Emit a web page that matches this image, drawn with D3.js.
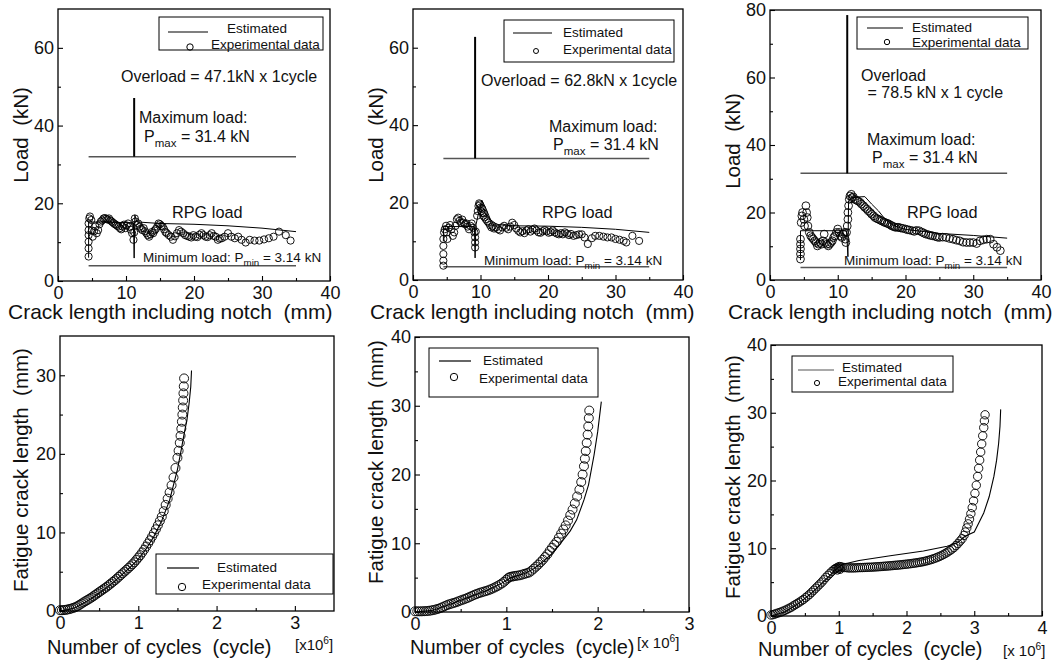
<!DOCTYPE html>
<html>
<head>
<meta charset="utf-8">
<script src="https://cdn.jsdelivr.net/npm/d3@7"></script>
<style>
  body { margin: 0; background: #fff; }
  svg { display: block; font-family: "Liberation Sans", Arial, Helvetica, sans-serif; }
</style>
</head>
<body>
<svg id="chart" width="1052" height="665"></svg>
<script>
// ---- ticks ----
const loadXTicks = [0, 10, 20, 30, 40];
const loadXMinor = [5, 15, 25, 35];
const loadYTicks70 = [0, 20, 40, 60];
const loadYMinor70 = [10, 30, 50];
const loadYTicks80 = [0, 20, 40, 60, 80];
const loadYMinor80 = [10, 30, 50, 70];
const cycleTicks3 = [0, 1, 2, 3];
const cycleMinor3 = [0.5, 1.5, 2.5];
const cycleTicks4 = [0, 1, 2, 3, 4];
const cycleMinor4 = [0.5, 1.5, 2.5, 3.5];
const crackTicks35 = [0, 10, 20, 30];
const crackMinor35 = [5, 15, 25];
const crackTicks40 = [0, 10, 20, 30, 40];
const crackMinor40 = [5, 15, 25, 35];

// ---- load levels (kN) and overload position (mm) for the three tests ----
const maxLoadLevel = [32, 31.4, 31.6];
const minLoadLevel = [3.9, 3.4, 3.7];
const levelSpan = [4.5, 35];
const overloadX = [11.2, 9.2, 11.4];
const overloadPeak = [47.1, 62.8, 78.5];

// ---- RPG load vs crack length: [mm, kN] ----
const loadEstA = [[4.5,6],[4.5,15.2],[11.1,15],[11.2,5.9],[11.3,17],[11.6,15.2],[15,14.8],[20,14.6],[25,14.2],[30,13.6],[35,12.7]];
const loadExpA = [[4.5,6.3],[4.5,8.4],[4.5,10.1],[4.5,11.8],[4.5,13.1],[4.5,14.8],[4.6,16.1],[4.7,16.6],[4.9,15.7],[5,13],[5.1,11.4],[5.3,12.8],[5.5,14],[5.7,12.3],[5.9,13.1],[6.1,14.6],[6.3,15.3],[6.5,15.6],[6.7,16.1],[6.9,16.2],[7.1,16],[7.3,15.8],[7.5,16.1],[7.7,15.6],[7.9,15.3],[8.1,15],[8.3,14.7],[8.5,14.5],[8.7,14.2],[8.9,14],[9.1,13.6],[9.3,13.3],[9.5,14],[9.7,14.5],[9.9,13.6],[10.1,14.3],[10.3,14.8],[10.5,14],[10.7,13.2],[10.9,12.3],[11.1,10.6],[11.2,12.5],[11.3,16.1],[11.4,15.3],[11.6,14.4],[11.8,14.8],[12,14],[12.2,13.5],[12.4,13.1],[12.6,13.6],[12.8,12.8],[13,12.3],[13.2,11.8],[13.4,11.4],[13.6,12],[13.8,12.6],[14,12.3],[14.2,13],[14.4,13.4],[14.6,14],[14.8,14.8],[15,14.6],[15.2,14.2],[15.4,14],[15.6,13.3],[15.8,12.6],[16,12.3],[16.3,11.8],[16.6,11.4],[16.9,10.6],[17.2,11.5],[17.5,12.3],[17.8,13.1],[18.1,12.7],[18.4,12.3],[18.7,11.8],[19,11.6],[19.3,11.4],[19.6,11.2],[19.9,11.8],[20.2,11.4],[20.5,11.3],[20.8,11.9],[21.1,12.3],[21.4,11.8],[21.7,11.4],[22,11.3],[22.3,11.8],[22.6,12.3],[22.9,11.6],[23.2,11.4],[23.5,10.6],[23.8,10.9],[24.1,11],[24.5,11.4],[25,12.3],[25.5,11.4],[26,11],[26.5,11.4],[27,10.6],[27.6,9.9],[28.2,10.6],[28.9,10.4],[29.6,10.4],[30.3,10.7],[31,11],[31.7,11.4],[32.5,12.7],[33.5,11.8],[34.2,10.4]];

const loadEstB = [[4.5,10],[4.5,13.8],[9.1,13.8],[9.2,5.7],[9.3,14],[9.8,18],[10.2,20.6],[10.8,18.5],[11.5,15.5],[12.5,14.3],[15,14],[20,13.9],[25,13.6],[30,13.1],[35,12.3]];
const loadExpB = [[4.5,3.7],[4.5,5],[4.5,6.7],[4.5,8.8],[4.5,10.6],[4.6,12.3],[4.7,13.1],[4.9,14],[5,12.3],[5.1,10.6],[5.3,13.5],[5.5,14.2],[5.7,13.1],[5.9,11.4],[6.1,12.3],[6.3,14],[6.5,15.7],[6.7,16.1],[6.9,15.3],[7.1,14.8],[7.3,15.6],[7.5,14.8],[7.7,14.4],[7.9,14.6],[8.1,13.8],[8.3,13.1],[8.5,14],[8.7,14.6],[8.9,13.5],[9.1,12.3],[9.2,11],[9.2,9.7],[9.2,8.4],[9.3,12.5],[9.5,16.6],[9.6,17.8],[9.7,19.1],[9.8,19.8],[9.9,19.5],[10,18.7],[10.1,17.8],[10.2,18.5],[10.3,17.4],[10.4,16.6],[10.5,17.2],[10.6,16.2],[10.8,15.7],[11,15.2],[11.2,14.8],[11.4,14.2],[11.6,13.6],[11.8,13.9],[12,13.3],[12.3,13.6],[12.6,13.1],[12.9,12.8],[13.2,13.6],[13.5,14],[13.8,13.5],[14.1,13.1],[14.4,13.8],[14.7,14.8],[15,14.2],[15.3,13.3],[15.6,12.7],[15.9,12.3],[16.2,12.6],[16.5,12.1],[16.8,12.8],[17.1,13.1],[17.4,12.5],[17.7,13],[18,13.3],[18.3,12.8],[18.6,12.3],[18.9,12.2],[19.2,12.6],[19.5,12.9],[19.8,12.6],[20.1,12.2],[20.4,12.4],[20.7,12.8],[21,12.3],[21.3,12],[21.6,11.8],[21.9,12.1],[22.2,11.8],[22.5,12.3],[22.8,12],[23.1,11.6],[23.4,11.9],[23.8,11.4],[24.2,11.6],[24.6,11.8],[25,11.8],[25.4,11],[25.9,9.3],[26.5,10.8],[27,11.4],[27.6,11.4],[28.2,11.2],[28.8,11],[29.4,11],[30,10.6],[30.6,10.4],[31.2,10.1],[31.6,9.7],[32.5,11.4],[33.5,10.1]];

const loadEstC = [[4.5,5.9],[4.5,14.6],[11.3,14.6],[11.5,6.9],[11.6,23.5],[12,24.3],[13,24.6],[14,24.7],[15,22.5],[16,20.5],[17,18],[18,16.4],[19,15.6],[20,15],[25,13.8],[30,13.2],[35,12.4]];
const loadExpC = [[4.5,6.2],[4.5,7.7],[4.5,9.2],[4.5,10.6],[4.5,12.1],[4.6,17],[4.7,19],[4.8,20],[5,18],[5.1,16],[5.3,22],[5.4,20],[5.5,18.5],[5.6,16],[5.8,14.1],[6,13.1],[6.2,12.6],[6.4,12.1],[6.6,11.6],[6.8,11.1],[7,10.1],[7.2,10.6],[7.4,11.1],[7.6,10.6],[7.8,11.6],[8,13.6],[8.2,11.1],[8.4,10.6],[8.6,10.1],[8.8,10.6],[9,11.1],[9.2,11.6],[9.4,12.6],[9.6,13.1],[9.8,14.1],[10,15.1],[10.2,14.1],[10.4,13.1],[10.6,12.6],[10.8,13.6],[11,14.1],[11.1,12.1],[11.2,11.1],[11.3,14.1],[11.4,16],[11.5,18],[11.5,20],[11.6,22],[11.7,23.9],[11.8,24.9],[12,25.4],[12.1,24.4],[12.3,24.6],[12.5,23.9],[12.8,23.6],[13,23.4],[13.3,23],[13.5,22.5],[13.8,22],[14,21.5],[14.3,21],[14.5,20.5],[14.8,20],[15,19.5],[15.3,19],[15.5,18.5],[15.8,18.2],[16,18],[16.3,17.7],[16.5,17.5],[16.8,17.2],[17,17],[17.3,16.8],[17.5,16.6],[17.8,16.3],[18,16],[18.3,15.8],[18.5,15.6],[18.8,15.6],[19,15.6],[19.3,15.4],[19.6,15.3],[20,15.1],[20.3,14.9],[20.6,14.8],[21,14.6],[21.3,14.4],[21.6,14.7],[22,14.6],[22.4,14.2],[22.7,13.9],[23,13.6],[23.4,13.4],[23.7,13.2],[24,13.1],[24.4,12.9],[24.7,12.7],[25,12.6],[25.5,12.7],[26,12.6],[26.5,12.3],[27,12.1],[27.5,11.8],[28,11.6],[28.5,11.2],[29,11.1],[29.5,11.1],[30,11.1],[30.5,10.8],[31,11.6],[31.5,11.9],[32,12.1],[32.5,12.1],[33,10.6],[33.5,9.7],[34,8.7]];

// ---- crack length vs cycles: [x10^6 cycles, mm] ----
const crackEstA = [[0,0],[0.1,0.15],[0.2,0.45],[0.3,1.0],[0.4,1.6],[0.5,2.3],[0.6,3.0],[0.7,3.8],[0.8,4.7],[0.9,5.6],[1.0,6.6],[1.1,7.9],[1.2,9.5],[1.3,11.5],[1.4,14.1],[1.5,18.0],[1.55,20.6],[1.59,22.8],[1.62,24.2],[1.65,26.5],[1.67,28.5],[1.68,30.6]];
const crackExpA = [[0,0.1],[0.025,0.1],[0.05,0.12],[0.075,0.15],[0.1,0.2],[0.125,0.26],[0.15,0.33],[0.175,0.41],[0.2,0.5],[0.225,0.63],[0.25,0.78],[0.275,0.94],[0.3,1.1],[0.325,1.25],[0.35,1.4],[0.375,1.55],[0.4,1.7],[0.425,1.87],[0.45,2.05],[0.475,2.22],[0.5,2.4],[0.525,2.57],[0.55,2.75],[0.575,2.92],[0.6,3.1],[0.625,3.3],[0.65,3.5],[0.675,3.7],[0.7,3.9],[0.725,4.12],[0.75,4.35],[0.775,4.57],[0.8,4.8],[0.825,5.02],[0.85,5.25],[0.875,5.47],[0.9,5.7],[0.925,5.95],[0.95,6.2],[0.975,6.5],[1.0,6.8],[1.025,7.1],[1.05,7.45],[1.075,7.8],[1.1,8.2],[1.125,8.6],[1.15,9.0],[1.175,9.45],[1.2,9.9],[1.225,10.4],[1.25,10.9],[1.275,11.45],[1.3,12.0],[1.325,12.7],[1.35,13.5],[1.375,14.3],[1.4,15.1],[1.425,16.0],[1.45,17.0],[1.475,18.2],[1.5,19.5],[1.515,20.4],[1.53,21.4],[1.54,22.3],[1.55,23.2],[1.557,24.1],[1.563,25.0],[1.568,25.9],[1.573,26.8],[1.577,27.7],[1.581,28.6],[1.585,29.6]];

const crackEstB = [[0,0],[0.2,0.25],[0.4,1.2],[0.6,2.2],[0.8,3.2],[0.95,4.2],[1.0,4.6],[1.05,5.0],[1.2,5.6],[1.3,6.3],[1.4,7.3],[1.5,8.5],[1.6,10.1],[1.7,11.8],[1.77,13.4],[1.85,16.3],[1.9,18.5],[1.96,22.8],[2.0,26.2],[2.04,30.6]];
const crackExpB = [[0,0.1],[0.025,0.1],[0.05,0.1],[0.075,0.1],[0.1,0.12],[0.125,0.14],[0.15,0.17],[0.175,0.22],[0.2,0.28],[0.225,0.36],[0.25,0.45],[0.275,0.56],[0.3,0.7],[0.325,0.85],[0.35,1.0],[0.375,1.12],[0.4,1.22],[0.425,1.32],[0.45,1.42],[0.475,1.55],[0.5,1.68],[0.525,1.8],[0.55,1.92],[0.575,2.05],[0.6,2.2],[0.625,2.35],[0.65,2.5],[0.675,2.62],[0.7,2.75],[0.725,2.85],[0.75,2.95],[0.775,3.05],[0.8,3.15],[0.825,3.28],[0.85,3.42],[0.875,3.58],[0.9,3.75],[0.925,3.95],[0.95,4.15],[0.975,4.4],[1.0,4.7],[1.02,4.95],[1.04,5.1],[1.06,5.15],[1.08,5.2],[1.1,5.25],[1.125,5.3],[1.15,5.35],[1.175,5.45],[1.2,5.55],[1.225,5.65],[1.25,5.75],[1.275,6.0],[1.3,6.3],[1.325,6.6],[1.35,6.9],[1.375,7.25],[1.4,7.6],[1.425,8.0],[1.45,8.4],[1.475,8.9],[1.5,9.35],[1.525,9.8],[1.55,10.2],[1.575,10.8],[1.6,11.4],[1.625,12.0],[1.65,12.6],[1.675,13.3],[1.7,14.1],[1.725,14.9],[1.75,15.8],[1.775,16.8],[1.8,17.8],[1.82,18.9],[1.835,20.0],[1.85,21.2],[1.86,22.3],[1.87,23.4],[1.88,24.6],[1.89,25.8],[1.897,27.0],[1.903,28.2],[1.908,29.3]];

const crackEstC = [[0,0],[0.2,0.6],[0.4,1.8],[0.6,3.4],[0.8,5.3],[0.95,6.8],[1.05,7.6],[1.3,8.2],[1.76,8.9],[2.25,9.6],[2.6,10.3],[2.75,10.8],[2.87,11.8],[3.0,12.4],[3.14,15.2],[3.22,17.6],[3.29,20.6],[3.33,23],[3.36,25.5],[3.38,28],[3.39,30.5]];
const crackExpC = [[0,0.15],[0.03,0.2],[0.06,0.3],[0.09,0.4],[0.12,0.5],[0.15,0.6],[0.18,0.72],[0.21,0.85],[0.24,1.0],[0.27,1.15],[0.3,1.3],[0.33,1.5],[0.36,1.68],[0.39,1.87],[0.42,2.05],[0.45,2.25],[0.48,2.45],[0.51,2.7],[0.54,2.95],[0.57,3.2],[0.6,3.5],[0.63,3.8],[0.66,4.1],[0.69,4.4],[0.72,4.7],[0.75,5.0],[0.78,5.35],[0.81,5.7],[0.84,6.0],[0.87,6.3],[0.9,6.6],[0.93,6.85],[0.95,7.0],[0.97,7.1],[0.98,6.8],[0.99,7.2],[1.0,7.0],[1.01,7.3],[1.02,6.9],[1.03,7.25],[1.05,7.2],[1.08,7.15],[1.11,7.15],[1.14,7.1],[1.17,7.1],[1.2,7.1],[1.23,7.1],[1.26,7.12],[1.29,7.14],[1.32,7.15],[1.35,7.15],[1.38,7.17],[1.41,7.18],[1.44,7.2],[1.47,7.2],[1.5,7.22],[1.53,7.24],[1.56,7.26],[1.59,7.28],[1.62,7.3],[1.65,7.32],[1.68,7.35],[1.71,7.37],[1.74,7.4],[1.77,7.42],[1.8,7.45],[1.83,7.48],[1.86,7.5],[1.89,7.53],[1.92,7.56],[1.95,7.6],[1.98,7.63],[2.01,7.66],[2.04,7.7],[2.07,7.74],[2.1,7.78],[2.13,7.82],[2.16,7.87],[2.19,7.92],[2.22,7.97],[2.25,8.03],[2.28,8.1],[2.31,8.18],[2.34,8.26],[2.37,8.35],[2.4,8.45],[2.43,8.56],[2.46,8.68],[2.49,8.8],[2.52,8.94],[2.55,9.1],[2.58,9.27],[2.61,9.45],[2.64,9.65],[2.67,9.87],[2.7,10.1],[2.73,10.4],[2.76,10.7],[2.79,11.05],[2.82,11.4],[2.85,11.9],[2.87,12.4],[2.89,13.0],[2.91,13.6],[2.93,14.3],[2.95,15.1],[2.97,16.0],[2.99,17.0],[3.01,18.1],[3.03,19.3],[3.05,20.6],[3.065,21.8],[3.08,23.0],[3.095,24.2],[3.11,25.4],[3.125,26.6],[3.14,27.8],[3.15,28.8],[3.16,29.7]];

const svg = d3.select('#chart');
const NB2 = '\u00a0\u00a0';   // 两个空格（SVG 会合并普通空格）

// 画坐标框 + 内向刻度
function frame(p) {
    const x = d3.scaleLinear().domain(p.xDomain).range([p.l, p.r]);
    const y = d3.scaleLinear().domain(p.yDomain).range([p.b, p.t]);
    const g = svg.append('g');

    const axX = g.append('g').attr('transform', `translate(0,${p.b})`)
        .call(d3.axisBottom(x).tickValues(p.xTicks).tickSize(-5).tickPadding(p.xPad).tickFormat(d3.format('d')));
    g.append('g').attr('transform', `translate(0,${p.b})`)
        .call(d3.axisBottom(x).tickValues(p.xMinor).tickSize(-3).tickFormat(''));
    const axY = g.append('g').attr('transform', `translate(${p.l},0)`)
        .call(d3.axisLeft(y).tickValues(p.yTicks).tickSize(-5).tickPadding(4).tickFormat(d3.format('d')));
    g.append('g').attr('transform', `translate(${p.l},0)`)
        .call(d3.axisLeft(y).tickValues(p.yMinor).tickSize(-3).tickFormat(''));

    g.selectAll('.domain').remove();
    g.selectAll('.tick line').attr('stroke', '#000').attr('stroke-width', 1.1);
    [axX, axY].forEach(a => a.attr('font-family', null).attr('font-size', 18)
        .selectAll('text').attr('fill', '#111'));

    g.append('rect')
        .attr('x', p.l).attr('y', p.t)
        .attr('width', p.r - p.l).attr('height', p.b - p.t)
        .attr('fill', 'none').attr('stroke', '#000').attr('stroke-width', 1.3);
    return { x, y, g };
}

function richText(g, x, y, size, parts) {
    const t = g.append('text').attr('x', x).attr('y', y).attr('font-size', size).attr('fill', '#111');
    let shift = 0;
    parts.forEach(s => {
        const span = t.append('tspan').text(s.t);
        let target = 0;
        if (s.sub) { target = size * 0.3; span.attr('font-size', size * 0.72); }
        if (s.sup) { target = -size * 0.4; span.attr('font-size', size * 0.68); }
        if (target !== shift) span.attr('dy', target - shift);
        shift = target;
    });
    return t;
}

function vTitle(x, y, txt) {
    svg.append('text').attr('transform', `translate(${x},${y}) rotate(-90)`)
        .attr('text-anchor', 'middle').attr('font-size', 20.5).attr('fill', '#111').text(txt);
}

function legend(g, L) {
    g.append('rect').attr('x', L.x0).attr('y', L.y0).attr('width', L.x1 - L.x0).attr('height', L.y1 - L.y0)
        .attr('fill', '#fff').attr('stroke', '#000').attr('stroke-width', 1);
    g.append('line').attr('x1', L.lx0).attr('x2', L.lx1).attr('y1', L.ly).attr('y2', L.ly)
        .attr('stroke', L.lineColor || '#000').attr('stroke-width', 1.2);
    g.append('text').attr('x', L.tx1).attr('y', L.ty1).attr('font-size', 13.5).attr('fill', '#111').text('Estimated');
    g.append('circle').attr('cx', L.cx).attr('cy', L.cy).attr('r', L.cr)
        .attr('fill', 'none').attr('stroke', '#000').attr('stroke-width', 1);
    g.append('text').attr('x', L.tx2).attr('y', L.ty2).attr('font-size', 13.5).attr('fill', '#111').text('Experimental data');
}

function points(g, x, y, data, r) {
    g.append('g').selectAll('circle').data(data).join('circle')
        .attr('cx', d => x(d[0])).attr('cy', d => y(d[1])).attr('r', r)
        .attr('fill', 'none').attr('stroke', '#000').attr('stroke-width', 0.9);
}

function curve(g, x, y, data, w) {
    g.append('path').datum(data)
        .attr('d', d3.line().x(d => x(d[0])).y(d => y(d[1])))
        .attr('fill', 'none').attr('stroke', '#000').attr('stroke-width', w);
}

// ---------------- top row: load vs crack length ----------------
const topPanels = [
    { l: 58, r: 330, t: 9, b: 281, yMax: 70, yTicks: loadYTicks70, yMinor: loadYMinor70,
      exp: loadExpA, est: loadEstA, r0: 3.6, title: [8, 319], yt: [28, 135],
      leg: { x0: 159, x1: 323, y0: 17, y1: 50, lx0: 168, lx1: 208, ly: 32, tx1: 227, ty1: 33, cx: 190, cy: 47, cr: 3.2, tx2: 211, ty2: 49 },
      over: [[121, 82, 'Overload = 47.1kN x 1cycle']],
      maxT: [139, 123, 144, 142], rpg: [172, 218], minT: [143, 262] },
    { l: 413, r: 683, t: 9, b: 280, yMax: 70, yTicks: loadYTicks70, yMinor: loadYMinor70,
      exp: loadExpB, est: loadEstB, r0: 3.6, title: [370, 319], yt: [383, 135],
      leg: { x0: 504, x1: 674, y0: 20, y1: 62, lx0: 513, lx1: 552, ly: 33, tx1: 563, ty1: 37, cx: 536, cy: 51, cr: 2.5, tx2: 563, ty2: 54 },
      over: [[481, 86, 'Overload = 62.8kN x 1cycle']],
      maxT: [549, 132, 553, 150], rpg: [542, 218], minT: [484, 265] },
    { l: 770, r: 1041, t: 10, b: 280, yMax: 80, yTicks: loadYTicks80, yMinor: loadYMinor80,
      exp: loadExpC, est: loadEstC, r0: 3.9, title: [728, 319], yt: [740, 141],
      leg: { x0: 857, x1: 1028, y0: 17, y1: 49, lx0: 867, lx1: 903, ly: 28, tx1: 912, ty1: 32, cx: 887, cy: 42, cr: 2.7, tx2: 912, ty2: 47 },
      over: [[861, 81, 'Overload'], [863, 98, '\u00a0= 78.5 kN x 1 cycle']],
      maxT: [867, 145, 872, 163], rpg: [907, 218], minT: [844, 265] }
];

topPanels.forEach((p, i) => {
    const f = frame({ l: p.l, r: p.r, t: p.t, b: p.b, xDomain: [0, 40], yDomain: [0, p.yMax],
        xTicks: loadXTicks, xMinor: loadXMinor, yTicks: p.yTicks, yMinor: p.yMinor, xPad: 5 });
    const { x, y, g } = f;

    // load levels
    [maxLoadLevel[i], minLoadLevel[i]].forEach(v => {
        g.append('line').attr('x1', x(levelSpan[0])).attr('x2', x(levelSpan[1]))
            .attr('y1', y(v)).attr('y2', y(v)).attr('stroke', '#555').attr('stroke-width', 1.5);
    });
    g.append('line').attr('x1', x(overloadX[i])).attr('x2', x(overloadX[i]))
        .attr('y1', y(maxLoadLevel[i])).attr('y2', y(overloadPeak[i]))
        .attr('stroke', '#000').attr('stroke-width', 2);

    points(g, x, y, p.exp, p.r0);
    curve(g, x, y, p.est, 1);

    legend(g, p.leg);
    p.over.forEach(o => richText(g, o[0], o[1], 16, [{ t: o[2] }]));
    richText(g, p.maxT[0], p.maxT[1], 16, [{ t: 'Maximum load:' }]);
    richText(g, p.maxT[2], p.maxT[3], 16, [{ t: 'P' }, { t: 'max', sub: true }, { t: ' = 31.4 kN' }]);
    richText(g, p.rpg[0], p.rpg[1], 16.3, [{ t: 'RPG load' }]);
    richText(g, p.minT[0], p.minT[1], 13.5, [{ t: 'Minimum load: P' }, { t: 'min', sub: true }, { t: ' = 3.14 kN' }]);

    richText(svg, p.title[0], p.title[1], 21, [{ t: 'Crack length including notch' + NB2 + '(mm)' }]);
    vTitle(p.yt[0], p.yt[1], 'Load' + NB2 + '(kN)');
});

// ---------------- bottom row: crack length vs cycles ----------------
const bottomPanels = [
    { l: 60, r: 334, t: 336, b: 611, xMax: 3.5, yMax: 35, xTicks: cycleTicks3, xMinor: cycleMinor3,
      yTicks: crackTicks35, yMinor: crackMinor35, exp: crackExpA, est: crackEstA, r0: 4.5,
      title: [47, 654], unit: [295, 650, '[x10'], yt: [28, 470],
      leg: { x0: 156, x1: 333, y0: 554, y1: 594, lx0: 167, lx1: 199, ly: 568, tx1: 217, ty1: 572, cx: 182, cy: 587, cr: 3.7, tx2: 202, ty2: 589 } },
    { l: 415, r: 689, t: 337, b: 612, xMax: 3, yMax: 40, xTicks: cycleTicks3, xMinor: cycleMinor3,
      yTicks: crackTicks40, yMinor: crackMinor40, exp: crackExpB, est: crackEstB, r0: 4.5,
      title: [410, 654], unit: [637, 648, '[x 10'], yt: [383, 462],
      leg: { x0: 429, x1: 598, y0: 348, y1: 397, lx0: 439, lx1: 471, ly: 361, tx1: 483, ty1: 365, cx: 454, cy: 377, cr: 3.7, tx2: 479, ty2: 383 } },
    { l: 771, r: 1042, t: 345, b: 616, xMax: 4, yMax: 40, xTicks: cycleTicks4, xMinor: cycleMinor4,
      yTicks: crackTicks40, yMinor: crackMinor40, exp: crackExpC, est: crackEstC, r0: 4.2,
      title: [758, 656], unit: [1003, 656, '[x 10'], yt: [740, 477],
      leg: { x0: 792, x1: 953, y0: 356, y1: 392, lx0: 798, lx1: 834, ly: 370, tx1: 842, ty1: 372, cx: 817, cy: 383, cr: 2.6, tx2: 838, ty2: 386, lineColor: '#555' } }
];

bottomPanels.forEach(p => {
    const { x, y, g } = frame({ l: p.l, r: p.r, t: p.t, b: p.b, xDomain: [0, p.xMax], yDomain: [0, p.yMax],
        xTicks: p.xTicks, xMinor: p.xMinor, yTicks: p.yTicks, yMinor: p.yMinor, xPad: 5 });
    points(g, x, y, p.exp, p.r0);
    curve(g, x, y, p.est, 1.1);
    legend(g, p.leg);

    richText(svg, p.title[0], p.title[1], 20, [{ t: 'Number of cycles' + NB2 + '(cycle)' }]);
    richText(svg, p.unit[0], p.unit[1], 15, [{ t: p.unit[2] }, { t: '6', sup: true }, { t: ']' }]);
    vTitle(p.yt[0], p.yt[1], 'Fatigue crack length' + NB2 + '(mm)');
});
</script>
</body>
</html>
